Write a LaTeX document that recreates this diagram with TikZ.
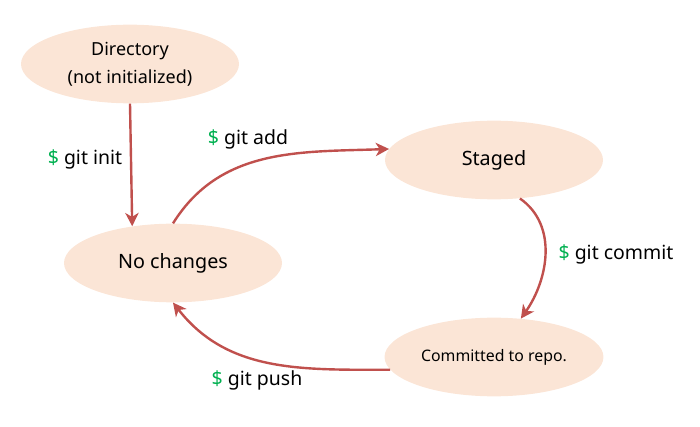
\documentclass[tikz,border=0pt]{standalone}
\usepackage{fontspec}
\setmainfont{Noto Sans}
\usetikzlibrary{positioning,shapes.geometric,arrows.meta}
\definecolor{statefill}{HTML}{FBE5D6}
\definecolor{flowred}{HTML}{C0504D}
\definecolor{dollargreen}{HTML}{00B050}
\newcommand{\gitcmd}[1]{{\color{dollargreen}\$} git #1}

\begin{document}
\begin{tikzpicture}[x=0.75pt, y=-0.75pt,
    state/.style={ellipse, fill=statefill, minimum width=163.5pt, minimum height=59pt, align=center, font=\fontsize{14.8}{17}\selectfont},
    flow/.style={draw=flowred, line width=1.8pt, -{Stealth[length=10pt,width=10pt,inset=3pt]}},
    cmd/.style={font=\fontsize{14.6}{17}\selectfont}]
  \useasboundingbox (0,0) rectangle (700,427);
  \node[state, font=\fontsize{13.5}{21}\selectfont] (dir) at (130,64) {Directory\\(not initialized)};
  \node[state] (nochg) at (173,263) {No changes};
  \node[state] (staged) at (494,160) {Staged};
  \node[state, font=\fontsize{11.9}{14}\selectfont] (repo) at (494,357) {Committed to repo.};
  \node[cmd] (init) at (85,159) {\gitcmd{init}};
  \node[cmd] (add) at (248,139) {\gitcmd{add}};
  \node[cmd] (commit) at (616,254) {\gitcmd{commit}};
  \node[cmd] (push) at (257,380) {\gitcmd{push}};
  \draw[flow] (dir.south) -- (nochg.138);
  \draw[flow] (nochg.north) to[out=58, in=182] (staged.174);
  \draw[flow] (staged.-56) to[out=-35, in=55] (repo.55);
  \draw[flow] (repo.187) to[out=180, in=-52] (nochg.south);
\end{tikzpicture}
\end{document}
